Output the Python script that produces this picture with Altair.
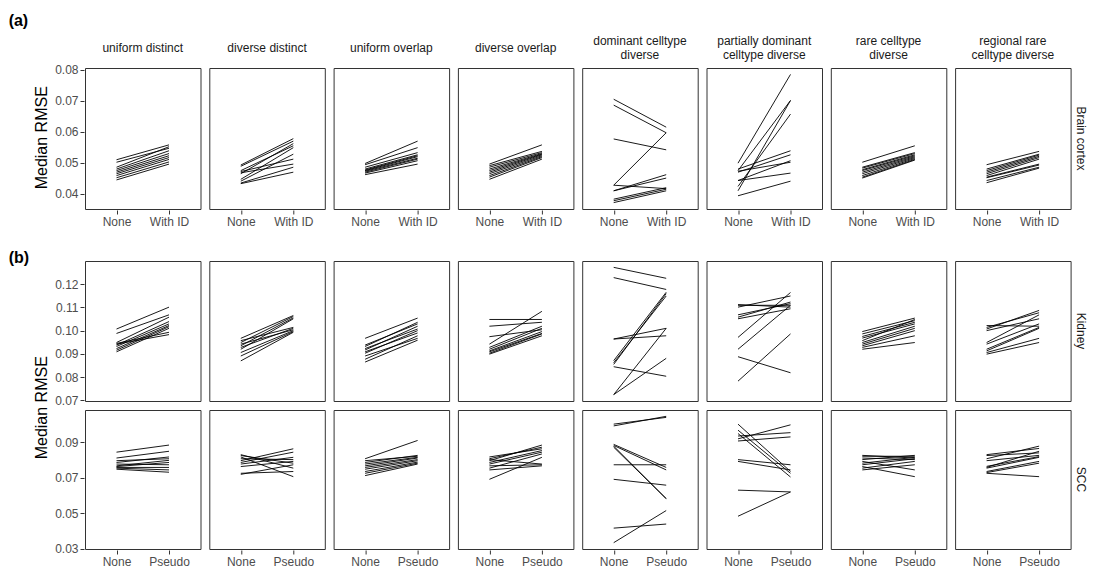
import altair as alt
import pandas as pd

FONT = "Liberation Sans"

# Simulation scenarios (panel columns); "|" marks a line break in the strip label
PANELS = [
    "uniform distinct",
    "diverse distinct",
    "uniform overlap",
    "diverse overlap",
    "dominant celltype|diverse",
    "partially dominant|celltype diverse",
    "rare celltype|diverse",
    "regional rare|celltype diverse",
]

# Median RMSE per replicate (10 replicates per scenario), before / after adjustment
BRAIN_NONE = [
    [0.0510, 0.0502, 0.0486, 0.0480, 0.0475, 0.0470, 0.0465, 0.0459, 0.0452, 0.0445],
    [0.0493, 0.0489, 0.0475, 0.0472, 0.0468, 0.0465, 0.0447, 0.0441, 0.0435, 0.0433],
    [0.0498, 0.0494, 0.0486, 0.0480, 0.0477, 0.0475, 0.0473, 0.0470, 0.0467, 0.0462],
    [0.0496, 0.0491, 0.0486, 0.0480, 0.0475, 0.0470, 0.0465, 0.0459, 0.0454, 0.0447],
    [0.0705, 0.0686, 0.0577, 0.0428, 0.0428, 0.0410, 0.0410, 0.0383, 0.0378, 0.0372],
    [0.0499, 0.0475, 0.0410, 0.0424, 0.0480, 0.0470, 0.0443, 0.0473, 0.0443, 0.0394],
    [0.0502, 0.0486, 0.0483, 0.0478, 0.0475, 0.0470, 0.0465, 0.0459, 0.0454, 0.0451],
    [0.0494, 0.0480, 0.0475, 0.0470, 0.0465, 0.0459, 0.0454, 0.0452, 0.0443, 0.0436],
]
BRAIN_WITH_ID = [
    [0.0558, 0.0547, 0.0552, 0.0539, 0.0530, 0.0523, 0.0517, 0.0511, 0.0503, 0.0496],
    [0.0578, 0.0570, 0.0555, 0.0512, 0.0496, 0.0562, 0.0549, 0.0528, 0.0486, 0.0470],
    [0.0570, 0.0549, 0.0533, 0.0526, 0.0523, 0.0520, 0.0515, 0.0512, 0.0507, 0.0496],
    [0.0558, 0.0537, 0.0533, 0.0530, 0.0528, 0.0526, 0.0523, 0.0520, 0.0517, 0.0512],
    [0.0615, 0.0597, 0.0542, 0.0597, 0.0417, 0.0462, 0.0451, 0.0420, 0.0415, 0.0410],
    [0.0785, 0.0701, 0.0701, 0.0657, 0.0539, 0.0526, 0.0507, 0.0502, 0.0467, 0.0441],
    [0.0555, 0.0533, 0.0530, 0.0526, 0.0523, 0.0520, 0.0517, 0.0514, 0.0511, 0.0509],
    [0.0537, 0.0528, 0.0525, 0.0521, 0.0517, 0.0512, 0.0496, 0.0493, 0.0486, 0.0483],
]

KIDNEY_NONE = [
    [0.1007, 0.0988, 0.0949, 0.0945, 0.0942, 0.0938, 0.0932, 0.0923, 0.0916, 0.0909],
    [0.0967, 0.0957, 0.0949, 0.0942, 0.0935, 0.0928, 0.0920, 0.0906, 0.0891, 0.0870],
    [0.0967, 0.0938, 0.0932, 0.0923, 0.0917, 0.0909, 0.0903, 0.0891, 0.0877, 0.0865],
    [0.1048, 0.1019, 0.0974, 0.0942, 0.0928, 0.0920, 0.0913, 0.0909, 0.0903, 0.0899],
    [0.1272, 0.1228, 0.0964, 0.0964, 0.0855, 0.0862, 0.0845, 0.0725, 0.0725, 0.0871],
    [0.1112, 0.1109, 0.1101, 0.1068, 0.1058, 0.1051, 0.0971, 0.0920, 0.0888, 0.0783],
    [0.0996, 0.0986, 0.0975, 0.0968, 0.0957, 0.0949, 0.0942, 0.0935, 0.0928, 0.0920],
    [0.1022, 0.1014, 0.1007, 0.1000, 0.0949, 0.0942, 0.0920, 0.0913, 0.0906, 0.0899],
]
KIDNEY_PSEUDO = [
    [0.1101, 0.1068, 0.1058, 0.0993, 0.0983, 0.1039, 0.1029, 0.1022, 0.1017, 0.1010],
    [0.1065, 0.1014, 0.1061, 0.1004, 0.1055, 0.1010, 0.1051, 0.1000, 0.0996, 0.0993],
    [0.1054, 0.1029, 0.1036, 0.1007, 0.1019, 0.0990, 0.1000, 0.0967, 0.0978, 0.0959],
    [0.1048, 0.1036, 0.1004, 0.1083, 0.1019, 0.1010, 0.0996, 0.0988, 0.0986, 0.0978],
    [0.1225, 0.1177, 0.1010, 0.0978, 0.1159, 0.1149, 0.0804, 0.1010, 0.0881, 0.1165],
    [0.1101, 0.1109, 0.1149, 0.1116, 0.1123, 0.1094, 0.1164, 0.1109, 0.0819, 0.0986],
    [0.1054, 0.1043, 0.1036, 0.1029, 0.1048, 0.1019, 0.1010, 0.1000, 0.0978, 0.0949],
    [0.1019, 0.1077, 0.1087, 0.1051, 0.1068, 0.1029, 0.1014, 0.1010, 0.0967, 0.0949],
]

SCC_NONE = [
    [0.0845, 0.0812, 0.0797, 0.0787, 0.0778, 0.0768, 0.0764, 0.0759, 0.0755, 0.0749],
    [0.0831, 0.0826, 0.0818, 0.0808, 0.0797, 0.0787, 0.0778, 0.0764, 0.0726, 0.0720],
    [0.0808, 0.0797, 0.0787, 0.0778, 0.0768, 0.0759, 0.0749, 0.0736, 0.0726, 0.0713],
    [0.0818, 0.0808, 0.0803, 0.0797, 0.0787, 0.0778, 0.0768, 0.0755, 0.0745, 0.0692],
    [0.1003, 0.0993, 0.0889, 0.0883, 0.0879, 0.0873, 0.0774, 0.0692, 0.0417, 0.0335],
    [0.1003, 0.0969, 0.0950, 0.0936, 0.0920, 0.0908, 0.0803, 0.0793, 0.0631, 0.0484],
    [0.0827, 0.0822, 0.0812, 0.0803, 0.0793, 0.0783, 0.0774, 0.0764, 0.0755, 0.0745],
    [0.0831, 0.0826, 0.0808, 0.0797, 0.0759, 0.0755, 0.0736, 0.0730, 0.0726, 0.0765],
]
SCC_PSEUDO = [
    [0.0885, 0.0850, 0.0808, 0.0818, 0.0774, 0.0799, 0.0787, 0.0759, 0.0745, 0.0732],
    [0.0755, 0.0783, 0.0707, 0.0803, 0.0864, 0.0845, 0.0816, 0.0793, 0.0736, 0.0774],
    [0.0911, 0.0822, 0.0827, 0.0816, 0.0812, 0.0803, 0.0797, 0.0789, 0.0783, 0.0778],
    [0.0864, 0.0873, 0.0778, 0.0885, 0.0854, 0.0845, 0.0774, 0.0835, 0.0768, 0.0816],
    [0.1041, 0.1047, 0.0759, 0.0745, 0.0583, 0.0583, 0.0774, 0.0659, 0.0440, 0.0516],
    [0.0736, 0.0726, 0.0705, 0.0955, 0.0999, 0.0931, 0.0774, 0.0745, 0.0621, 0.0621],
    [0.0812, 0.0822, 0.0803, 0.0827, 0.0745, 0.0816, 0.0808, 0.0707, 0.0793, 0.0774],
    [0.0866, 0.0841, 0.0879, 0.0827, 0.0850, 0.0816, 0.0793, 0.0783, 0.0707, 0.0820],
]

BRAIN_TICKS = [0.04, 0.05, 0.06, 0.07, 0.08]
KIDNEY_TICKS = [0.07, 0.08, 0.09, 0.10, 0.11, 0.12]
SCC_TICKS = [0.03, 0.05, 0.07, 0.09]

PANEL_W = 115.5
PANEL_GAP = 7.3
TEXT_GREY = "#4d4d4d"
STRIP_TEXT = "#1a1a1a"
DARK = "#333333"


def long_table(tissue, before, after, after_label):
    rows = []
    for panel, b_vals, a_vals in zip(PANELS, before, after):
        parts = panel.split("|")
        line1 = parts[0]
        line2 = parts[1] if len(parts) > 1 else ""
        for run, (b, a) in enumerate(zip(b_vals, a_vals)):
            for method, value in (("None", b), (after_label, a)):
                rows.append(dict(tissue=tissue, panel=panel, line1=line1, line2=line2,
                                 run=run, method=method, rmse=value))
    return pd.DataFrame(rows)


def expanded(df):
    # 5% expansion on each side of the data range
    lo, hi = df["rmse"].min(), df["rmse"].max()
    pad = 0.05 * (hi - lo)
    return [lo - pad, hi + pad]


def strip_text(field, test, y):
    # strip label text placed above the panel
    return alt.Chart().transform_filter(
        f"datum.run == 0 && datum.method == 'None' && ({test})"
    ).mark_text(fontSize=12, color=STRIP_TEXT, baseline="middle", align="center").encode(
        text=f"{field}:N", x=alt.value(PANEL_W / 2), y=alt.value(y)
    )


def panel_row(df, after_label, ticks, height, show_strips, show_x):
    x_axis = (
        alt.Axis(title=None, labelAngle=0, labelFontSize=12, labelColor=TEXT_GREY,
                 tickColor=DARK, tickSize=4, labelPadding=2, domain=False)
        if show_x else None
    )
    y_axis = alt.Axis(title=None, values=ticks, format=".2f", labelFontSize=12,
                      labelColor=TEXT_GREY, tickColor=DARK, tickSize=4,
                      labelPadding=2, domain=False, grid=False)
    lines = alt.Chart().mark_line(color="black", strokeWidth=0.9).encode(
        x=alt.X("method:N", sort=["None", after_label],
                scale=alt.Scale(type="point", padding=0.6), axis=x_axis),
        y=alt.Y("rmse:Q", scale=alt.Scale(domain=expanded(df), nice=False, zero=False),
                axis=y_axis),
        detail="run:N",
    )
    layers = [lines]
    if show_strips:
        layers += [
            strip_text("line1", "datum.line2 == ''", -20),
            strip_text("line1", "datum.line2 != ''", -27),
            strip_text("line2", "datum.line2 != ''", -13),
        ]

    row_header = alt.Header(title=None, labelOrient="right", labelAngle=90,
                            labelFontSize=12, labelColor=STRIP_TEXT, labelPadding=-3,
                            labelAlign="center", labelBaseline="middle", labelFont=FONT)
    return alt.layer(*layers, data=df).properties(width=PANEL_W, height=height).facet(
        column=alt.Column("panel:N", sort=PANELS, header=alt.Header(title=None, labels=False)),
        row=alt.Row("tissue:N", header=row_header),
        spacing=PANEL_GAP,
    )


def y_title(shift):
    # shift moves the rotated title along the panel column (positive = up)
    return alt.TitleParams("Median RMSE", orient="left", anchor="middle", fontSize=16,
                           fontWeight="normal", color="black", font=FONT, offset=5,
                           dx=shift)


def tag(label, offset):
    return alt.TitleParams(label, anchor="start", fontSize=16, fontWeight="bold",
                           color="black", font=FONT, dx=-25, offset=offset)


brain = long_table("Brain cortex", BRAIN_NONE, BRAIN_WITH_ID, "With ID")
kidney = long_table("Kidney", KIDNEY_NONE, KIDNEY_PSEUDO, "Pseudo")
scc = long_table("SCC", SCC_NONE, SCC_PSEUDO, "Pseudo")

row_a = panel_row(brain, "With ID", BRAIN_TICKS, 141, True, True)
row_kidney = panel_row(kidney, "Pseudo", KIDNEY_TICKS, 140, False, False)
row_scc = panel_row(scc, "Pseudo", SCC_TICKS, 139, False, True)

block_a = alt.vconcat(alt.vconcat(row_a, title=y_title(-7)), title=tag("(a)", 6))
block_b = alt.vconcat(
    alt.vconcat(row_kidney, row_scc, spacing=2, title=y_title(6)),
    title=tag("(b)", -5),
)

chart = (
    alt.vconcat(block_a, block_b, spacing=22)
    .properties(padding={"left": 8, "top": 12, "right": 5, "bottom": 0})
    .configure(font=FONT)
    .configure_view(stroke=DARK, strokeWidth=1)
    .configure_axis(grid=False)
)

chart.save("out.html", embed_options={"renderer": "svg", "actions": False})
